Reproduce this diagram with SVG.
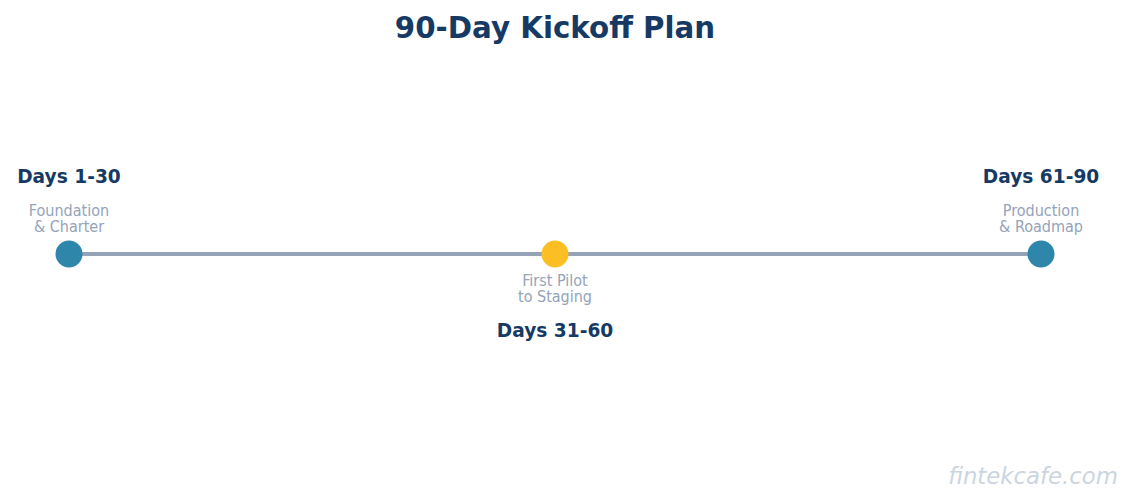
<svg xmlns="http://www.w3.org/2000/svg" width="1134" height="504" viewBox="0 0 1134 504">
<style>
.title{font-family:"DejaVu Sans",sans-serif;font-weight:bold;font-size:29.3px;fill:#163a63;text-anchor:middle}
.head{font-family:"DejaVu Sans",sans-serif;font-weight:bold;font-size:18.6px;fill:#163a63;text-anchor:middle}
.sub{font-family:"DejaVu Sans Condensed","DejaVu Sans",sans-serif;font-stretch:condensed;font-size:16px;fill:#94a3b8;text-anchor:middle}
.wm{font-family:"DejaVu Sans",sans-serif;font-style:italic;font-size:22.8px;fill:#cbd5e1;text-anchor:end}
</style>
<rect width="1134" height="504" fill="#ffffff"/>
<text class="title" x="555" y="38">90-Day Kickoff Plan</text>
<g id="connectors">
<line x1="69" y1="254" x2="1041" y2="254" stroke="#94a3b8" stroke-width="4"/>
</g>
<g id="node-1">
<circle cx="69" cy="254" r="13.5" fill="#2e86ab"/>
<text class="head" x="69" y="183">Days 1-30</text>
<text class="sub" x="69" y="215.5"><tspan x="69">Foundation</tspan><tspan x="69" dy="16">&amp; Charter</tspan></text>
</g>
<g id="node-2">
<circle cx="555" cy="254" r="13.5" fill="#fbbf24"/>
<text class="sub" x="555" y="285.5"><tspan x="555">First Pilot</tspan><tspan x="555" dy="16">to Staging</tspan></text>
<text class="head" x="555" y="337">Days 31-60</text>
</g>
<g id="node-3">
<circle cx="1041" cy="254" r="13.5" fill="#2e86ab"/>
<text class="head" x="1041" y="183">Days 61-90</text>
<text class="sub" x="1041" y="215.5"><tspan x="1041">Production</tspan><tspan x="1041" dy="16">&amp; Roadmap</tspan></text>
</g>
<text class="wm" x="1118" y="484">fintekcafe.com</text>
</svg>
